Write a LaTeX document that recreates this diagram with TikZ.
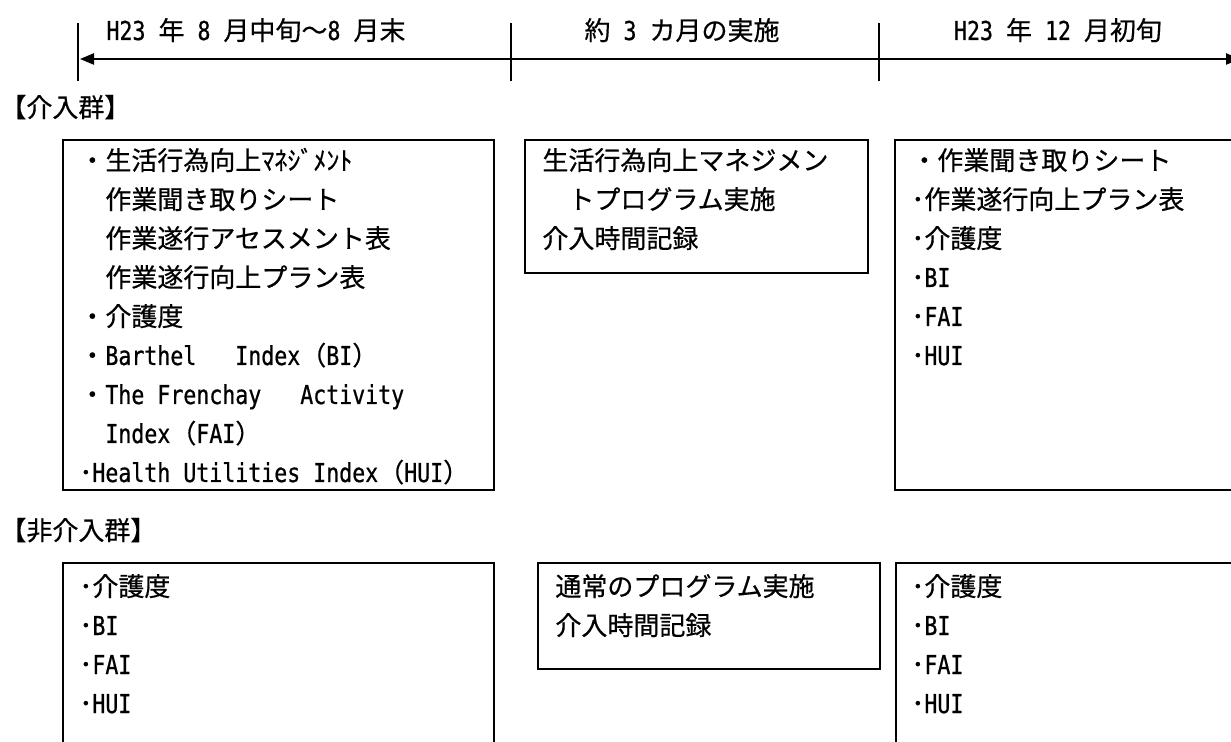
\documentclass[tikz,border=0pt]{standalone}
\usepackage{fontspec}
\setmainfont{Noto Sans CJK JP}[UprightFeatures={FakeBold=0.5}]
\newfontfamily\monofam[FakeStretch=0.83,UprightFeatures={FakeBold=0.7}]{DejaVu Sans Mono}
\newcommand\hw[1]{{\monofam #1}}
\usetikzlibrary{arrows.meta}
\tikzset{
  box/.style={draw, line width=0.9pt, inner sep=0pt, anchor=north west},
  txt/.style={anchor=base west, inner sep=0pt, font=\fontsize{13pt}{19.5pt}\selectfont},
  lbl/.style={anchor=base, inner sep=0pt, font=\fontsize{13pt}{19.5pt}\selectfont},
  tick/.style={line width=0.65pt},
  arr/.style={line width=0.9pt, {Triangle[length=7pt,width=5.6pt]}-{Triangle[length=7pt,width=5.6pt]}},
}
\newcommand\boxlines[4]{%
  \foreach \t [count=\i] in {#4} \node[txt] (#1-\i) at (#2,{#3+39*\i-39}) {\t};}
\begin{document}
\begin{tikzpicture}[x=0.5pt,y=-0.5pt]
\useasboundingbox (0,0) rectangle (1231,742);
\clip (0,0) rectangle (1231,742);
\fill[white] (0,0) rectangle (1231,742);

% timeline
\coordinate (k1a) at (78,23);  \coordinate (k1b) at (78,81);
\coordinate (k2a) at (511,23); \coordinate (k2b) at (511,81);
\coordinate (k3a) at (879,23); \coordinate (k3b) at (879,81);
\draw[tick] (k1a) -- (k1b);
\draw[tick] (k2a) -- (k2b);
\draw[tick] (k3a) -- (k3b);
\coordinate (aL) at (80,59);
\coordinate (aR) at (1240,59);
\draw[arr] (aL) -- (aR);
\node[lbl] (p1) at (256,40) {\hw{H23\ }年\hw{\ 8\ }月中旬〜\hw{8\ }月末};
\node[lbl] (p2) at (682,40) {約\hw{\ 3\ }カ月の実施};
\node[lbl] (p3) at (1058,40) {\hw{H23\ }年\hw{\ 12\ }月初旬};

% group labels
\node[txt] (g1) at (0,117) {【介入群】};
\node[txt] (g2) at (0,540) {【非介入群】};

% intervention group boxes
\node[box, minimum width=215.5pt, minimum height=175pt] (A1) at (62,139) {};
\node[box, minimum width=171.5pt, minimum height=66.5pt] (A2) at (524,139) {};
\node[box, minimum width=180pt, minimum height=175pt] (A3) at (894,139) {};

\boxlines{a1}{79}{170}{{・生活行為向上ﾏﾈｼﾞﾒﾝﾄ},{　作業聞き取りシート},{　作業遂行アセスメント表},{　作業遂行向上プラン表},{・介護度},{・\hw{Barthel\ \ \ Index}（\hw{BI}）},{・\hw{The Frenchay\ \ \ Activity}},{　\hw{Index}（\hw{FAI}）},{･\hw{Health Utilities Index}（\hw{HUI}）}}
\boxlines{a2}{542}{170}{{生活行為向上マネジメン},{　トプログラム実施},{介入時間記録}}
\boxlines{a3}{911}{170}{{・作業聞き取りシート},{･作業遂行向上プラン表},{･介護度},{･\hw{BI}},{･\hw{FAI}},{･\hw{HUI}}}

% non-intervention group boxes
\node[box, minimum width=215.5pt, minimum height=100pt] (B1) at (62,562) {};
\node[box, minimum width=171pt, minimum height=53pt] (B2) at (537,562) {};
\node[box, minimum width=180pt, minimum height=100pt] (B3) at (895,562) {};

\boxlines{b1}{79}{596}{{･介護度},{･\hw{BI}},{･\hw{FAI}},{･\hw{HUI}}}
\boxlines{b2}{555}{596}{{通常のプログラム実施},{介入時間記録}}
\boxlines{b3}{911}{596}{{･介護度},{･\hw{BI}},{･\hw{FAI}},{･\hw{HUI}}}
\end{tikzpicture}
\end{document}
